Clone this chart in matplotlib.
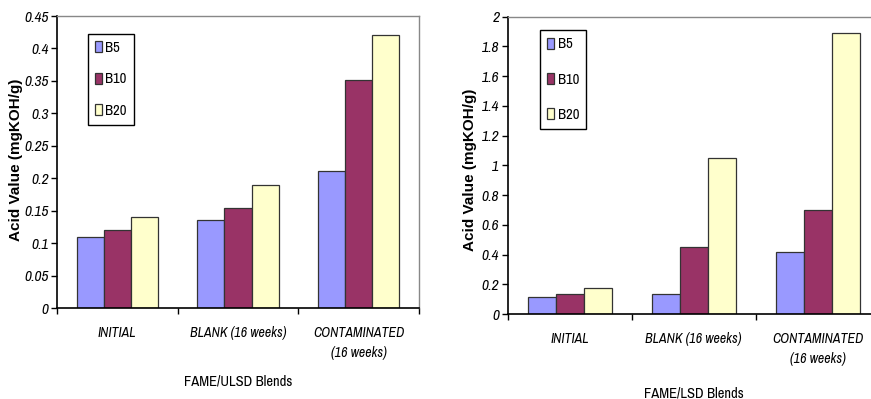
import matplotlib
matplotlib.use("Agg")
import matplotlib.pyplot as plt
import numpy as np

plt.rcParams['font.family'] = ['Archivo Narrow', 'Liberation Sans', 'DejaVu Sans']

# acid value data, mgKOH/g
categories = ["INITIAL", "BLANK (16 weeks)", "CONTAMINATED\n(16 weeks)"]
blends = ["B5", "B10", "B20"]

ulsd_b5 = [0.110, 0.135, 0.211]
ulsd_b10 = [0.120, 0.154, 0.352]
ulsd_b20 = [0.140, 0.190, 0.420]

lsd_b5 = [0.115, 0.135, 0.42]
lsd_b10 = [0.135, 0.45, 0.70]
lsd_b20 = [0.175, 1.05, 1.89]

ulsd_ticks = [0, 0.05, 0.1, 0.15, 0.2, 0.25, 0.3, 0.35, 0.4, 0.45]
ulsd_ticklabels = ["0", "0.05", "0.1", "0.15", "0.2", "0.25", "0.3", "0.35", "0.4", "0.45"]
lsd_ticks = [0, 0.2, 0.4, 0.6, 0.8, 1.0, 1.2, 1.4, 1.6, 1.8, 2.0]
lsd_ticklabels = ["0", "0.2", "0.4", "0.6", "0.8", "1", "1.2", "1.4", "1.6", "1.8", "2"]

colors = ["#9999FF", "#993366", "#FFFFCC"]


def draw_panel(ax, series, ticks, ticklabels, ymax, leg_anchor, leg_spacing):
    x = np.arange(len(categories)) + 0.5
    w = 0.225
    for i, vals in enumerate(series):
        ax.bar(x + (i - 1) * w, vals, width=w, color=colors[i],
               edgecolor="#333333", linewidth=0.9, label=blends[i], zorder=2)
    ax.set_xlim(0, len(categories))
    ax.set_ylim(0, ymax)
    ax.set_yticks(ticks)
    ax.set_yticklabels(ticklabels, fontsize=11, fontstyle="italic", fontweight="bold")
    ax.set_xticks([0, 1, 2, 3])
    ax.set_xticklabels([])
    ax.set_xticks(x, minor=True)
    ax.set_xticklabels(categories, minor=True, fontsize=10, fontstyle="italic",
                       linespacing=1.5)
    ax.tick_params(axis="x", which="minor", length=0, pad=13)
    ax.tick_params(axis="x", which="major", length=4, width=1, direction="out")
    ax.tick_params(axis="y", length=4, width=1, direction="out", pad=2)
    for s in ["left", "bottom"]:
        ax.spines[s].set_color("black")
        ax.spines[s].set_linewidth(1.2)
    for s in ["top", "right"]:
        ax.spines[s].set_color("#888888")
        ax.spines[s].set_linewidth(1.0)
    leg = ax.legend(loc="upper left", bbox_to_anchor=leg_anchor, borderaxespad=0,
                    fancybox=False, edgecolor="black", framealpha=1,
                    handlelength=0.45, handleheight=0.75, handletextpad=0.25,
                    labelspacing=leg_spacing, borderpad=0.5, fontsize=10.5)
    leg.get_frame().set_linewidth(1.0)


fig = plt.figure(figsize=(8.71, 3.99), dpi=100)

ax1 = fig.add_axes([57 / 871, 1 - 308 / 399, 362 / 871, 292 / 399])
draw_panel(ax1, [ulsd_b5, ulsd_b10, ulsd_b20], ulsd_ticks, ulsd_ticklabels, 0.45,
           (0.085, 0.94), 1.2)

ax2 = fig.add_axes([507.7 / 871, 1 - 314 / 399, 372 / 871, 297.3 / 399])
draw_panel(ax2, [lsd_b5, lsd_b10, lsd_b20], lsd_ticks, lsd_ticklabels, 2.0,
           (0.087, 0.955), 1.45)

fig.text(16 / 871, 1 - 160 / 399, "Acid Value (mgKOH/g)", rotation=90,
         ha="center", va="center", fontsize=11, fontweight="bold",
         family=["Liberation Sans", "DejaVu Sans"])
fig.text(470 / 871, 1 - 170 / 399, "Acid Value (mgKOH/g)", rotation=90,
         ha="center", va="center", fontsize=11, fontweight="bold",
         family=["Liberation Sans", "DejaVu Sans"])
fig.text(238 / 871, 1 - 382 / 399, "FAME/ULSD Blends", ha="center", va="center",
         fontsize=10.5)
fig.text(694 / 871, 1 - 393 / 399, "FAME/LSD Blends", ha="center", va="center",
         fontsize=10.5)

fig.savefig("out.png", dpi=100)
